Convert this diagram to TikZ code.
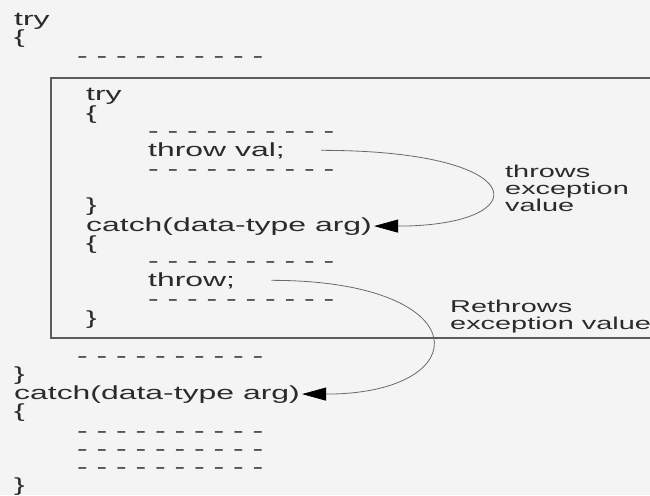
\documentclass[tikz,border=0pt]{standalone}
\usepackage{fontspec}
\usepackage{tikz}
\usetikzlibrary{arrows.meta}
\newfontfamily\codefont[FakeStretch=1.68]{Liberation Sans}
\definecolor{ink}{HTML}{2B2B2B}
\definecolor{frame}{HTML}{5C5C5C}
\definecolor{wire}{HTML}{6A6A6A}
\definecolor{paper}{HTML}{F4F4F4}
\tikzset{
  code/.style={anchor=base west,inner sep=0pt,text=ink,
    font=\codefont\fontsize{19}{19}\selectfont},
  note/.style={anchor=north west,inner sep=0pt,text=ink,align=left,
    font=\codefont\fontsize{17.2}{17}\selectfont},
  block/.style={draw=frame,line width=1.2pt},
  arrow/.style={-{Triangle[length=24pt,width=13pt,color=black]},draw=wire,line width=0.8pt}
}
\newcommand{\dashrow}{- - - - - - - - - -}

\begin{document}
\begin{tikzpicture}[x=1pt,y=-1pt]
\fill[paper] (0,0) rectangle (650,495);
\useasboundingbox (0,0) rectangle (650,495);
% outer try
\node[code] (try0) at (14,26) {try};
\node[code] (open0) at (14,44) {\{};
\node[code] (d0) at (77,63) {\dashrow};
% inner try/catch inside the frame
\draw[block] (650,78) -- (51,78) -- (51,338) -- (650,338);
\node[code] (try1) at (86,100) {try};
\node[code] (open1) at (86,119) {\{};
\node[code] (d1) at (148,137) {\dashrow};
\node[code] (tv) at (148,156) {throw val;};
\node[code] (d2) at (148,175) {\dashrow};
\node[code] (close1) at (86,211) {\}};
\node[code] (c1) at (86,231) {catch(data-type arg)};
\node[code] (open2) at (86,249) {\{};
\node[code] (d3) at (148,267) {\dashrow};
\node[code] (rt) at (148,286) {throw;};
\node[code] (d4) at (148,305) {\dashrow};
\node[code] (close2) at (86,324) {\}};
% rest of outer try and its catch
\node[code] (d5) at (77,362) {\dashrow};
\node[code] (close0) at (14,380) {\}};
\node[code] (c0) at (14,399) {catch(data-type arg)};
\node[code] (open3) at (14,417) {\{};
\node[code] (d6) at (77,437) {\dashrow};
\node[code] (d7) at (77,455) {\dashrow};
\node[code] (d8) at (77,473) {\dashrow};
\node[code] (close3) at (14,491) {\}};
% labels
\node[note] (l1) at (505,164.5) {throws\\exception\\value};
\node[note] (l2) at (450,299.5) {Rethrows\\exception value};
% connectors
\coordinate (tvout) at ([xshift=36pt]tv.east);
\coordinate (rtout) at ([xshift=36pt]rt.east);
\draw[arrow] (tvout) .. controls +(215,0) and +(163,0) .. ([xshift=2pt]c1.east);
\draw[arrow] (rtout) .. controls +(208,0) and +(176,0) .. ([xshift=2pt]c0.east);
\end{tikzpicture}
\end{document}
